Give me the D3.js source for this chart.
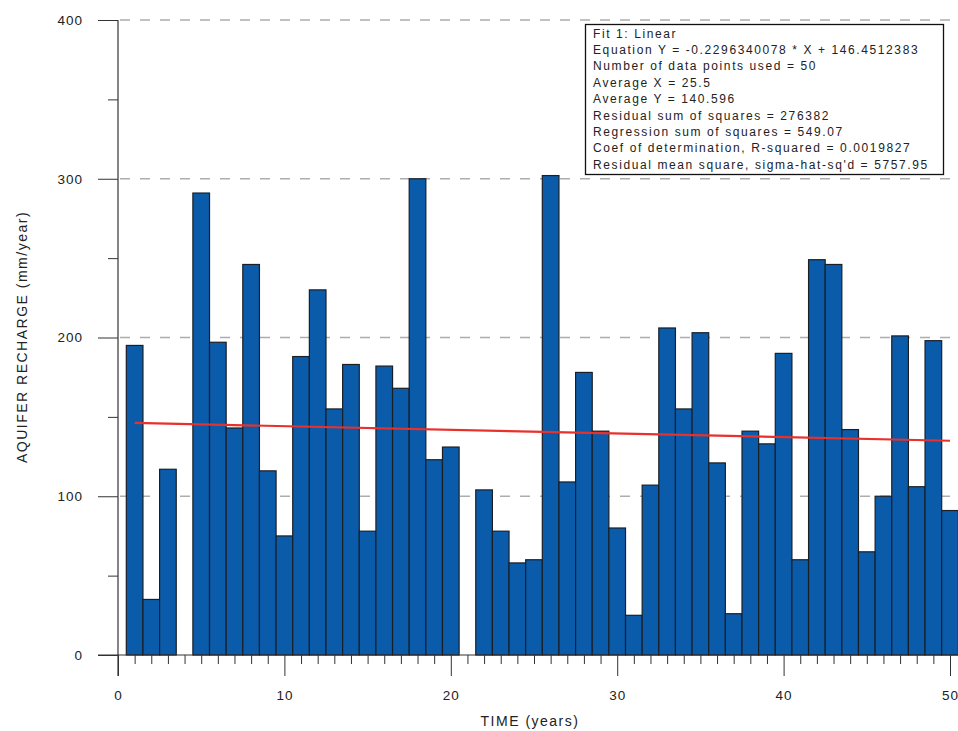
<!DOCTYPE html>
<html>
<head>
<meta charset="utf-8">
<script src="https://cdn.jsdelivr.net/npm/d3@7"></script>
<style>
  html, body { margin: 0; padding: 0; background: #fff; }
  svg { display: block; }
  text { font-family: "Liberation Sans", Arial, sans-serif; fill: #222; }
</style>
</head>
<body>
<svg id="chart" width="958" height="731"></svg>
<script>
// ---- data ----
const years = d3.range(1, 51);
const recharge = [195, 35, 117, 0, 291, 197, 143, 246, 116, 75,
                  188, 230, 155, 183, 78, 182, 168, 300, 123, 131,
                  0, 104, 78, 58, 60, 302, 109, 178, 141, 80,
                  25, 107, 206, 155, 203, 121, 26, 141, 133, 190,
                  60, 249, 246, 142, 65, 100, 201, 106, 198, 91];
const fitSlope = -0.2296340078;
const fitIntercept = 146.4512383;
const xTicks = [0, 10, 20, 30, 40, 50];
const yTicks = [0, 100, 200, 300, 400];
const gridValues = [100, 200, 300, 400];
const legendLines = [
  "Fit 1: Linear",
  "Equation Y = -0.2296340078 * X + 146.4512383",
  "Number of data points used = 50",
  "Average X = 25.5",
  "Average Y = 140.596",
  "Residual sum of squares = 276382",
  "Regression sum of squares = 549.07",
  "Coef of determination, R-squared = 0.0019827",
  "Residual mean square, sigma-hat-sq'd = 5757.95"
];
const xLabel = "TIME (years)";
const yLabel = "AQUIFER RECHARGE (mm/year)";

// ---- layout ----
const svg = d3.select("#chart");
const x = d3.scaleLinear().domain([0, 50]).range([118, 950]);
const y = d3.scaleLinear().domain([0, 400]).range([655, 20]);

// gridlines
svg.append("g").selectAll("line").data(gridValues).join("line")
  .attr("x1", x(0)).attr("x2", x(50))
  .attr("y1", d => y(d)).attr("y2", d => y(d))
  .attr("stroke", "#adadad").attr("stroke-width", 1.5)
  .attr("stroke-dasharray", "10,10").attr("stroke-dashoffset", -2);

// bars
svg.append("g").selectAll("rect").data(years.map((t, i) => ({t, v: recharge[i]})).filter(d => d.v > 0))
  .join("rect")
  .attr("x", d => x(d.t - 0.5))
  .attr("width", d => x(d.t + 0.5) - x(d.t - 0.5))
  .attr("y", d => y(d.v))
  .attr("height", d => y(0) - y(d.v))
  .attr("fill", "#0a5cab")
  .attr("stroke", "#1a1f26").attr("stroke-width", 1.2);

// regression line
const line = d3.line().x(d => x(d)).y(d => y(fitSlope * d + fitIntercept));
svg.append("path").datum([1, 50]).attr("d", line)
  .attr("fill", "none").attr("stroke", "#e8302c").attr("stroke-width", 2.2);

// axes
const axisColor = "#333";
const xAxis = d3.axisBottom(x).tickValues(xTicks).tickSize(21).tickPadding(14).tickFormat(d3.format("d"));
const xg = svg.append("g").attr("transform", `translate(0,${y(0)})`).call(xAxis);
xg.select(".domain").remove();
xg.selectAll(".tick line").attr("stroke", axisColor);
xg.selectAll(".tick text").attr("font-size", 13.5).attr("fill", "#222")
  .attr("font-family", "Liberation Sans, Arial, sans-serif").attr("letter-spacing", "1px");

const xMinor = d3.axisBottom(x).tickValues(d3.range(1, 50).filter(d => d % 10 !== 0)).tickSize(9).tickFormat("");
const xm = svg.append("g").attr("transform", `translate(0,${y(0)})`).call(xMinor);
xm.select(".domain").remove();
xm.selectAll(".tick line").attr("stroke", axisColor);

const yAxis = d3.axisLeft(y).tickValues(yTicks).tickSize(20).tickPadding(15).tickFormat(d3.format("d"));
const yg = svg.append("g").attr("transform", `translate(${x(0)},0)`).call(yAxis);
yg.select(".domain").remove();
yg.selectAll(".tick line").attr("stroke", axisColor);
yg.selectAll(".tick text").attr("font-size", 13.5).attr("fill", "#222")
  .attr("font-family", "Liberation Sans, Arial, sans-serif").attr("letter-spacing", "1px");

const yMinor = d3.axisLeft(y).tickValues([50, 150, 250, 350]).tickSize(10).tickFormat("");
const ym = svg.append("g").attr("transform", `translate(${x(0)},0)`).call(yMinor);
ym.select(".domain").remove();
ym.selectAll(".tick line").attr("stroke", axisColor);

// axis lines
svg.append("line").attr("x1", x(0)).attr("x2", x(0)).attr("y1", y(400)).attr("y2", y(0) + 21)
  .attr("stroke", axisColor).attr("stroke-width", 1.2);
svg.append("line").attr("x1", x(0) - 20).attr("x2", 958).attr("y1", y(0)).attr("y2", y(0))
  .attr("stroke", axisColor).attr("stroke-width", 1.2);

// axis titles
svg.append("text").text(xLabel)
  .attr("x", 530).attr("y", 726).attr("text-anchor", "middle")
  .attr("font-size", 14).attr("letter-spacing", "1.5px");
svg.append("text").text(yLabel)
  .attr("transform", `translate(27,337) rotate(-90)`).attr("text-anchor", "middle")
  .attr("font-size", 14).attr("letter-spacing", "1.5px");

// legend box
const lg = svg.append("g");
lg.append("rect").attr("x", 585.5).attr("y", 24.5).attr("width", 358).attr("height", 150)
  .attr("fill", "#fff").attr("stroke", "#111").attr("stroke-width", 1.3);
lg.selectAll("text").data(legendLines).join("text")
  .attr("x", 593).attr("y", (d, i) => 37.5 + i * 16.4)
  .attr("font-size", 12).attr("letter-spacing", "1.6px").attr("fill", "#111")
  .text(d => d);
</script>
</body>
</html>
